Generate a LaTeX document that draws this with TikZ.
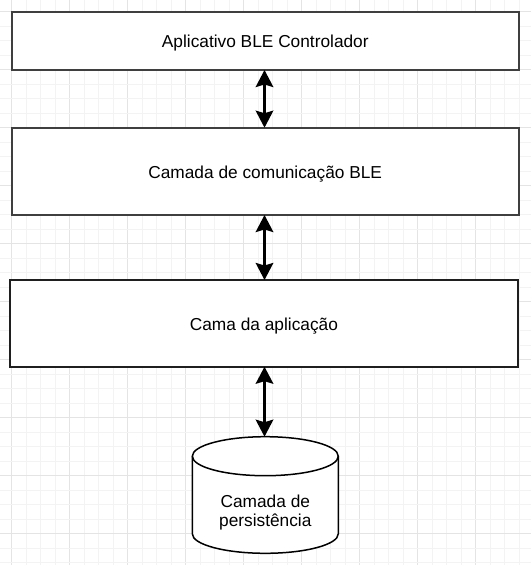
\documentclass[tikz,border=0pt]{standalone}
\usepackage{fontspec}
\setmainfont{Liberation Sans}
\usetikzlibrary{arrows.meta}
\definecolor{gridminor}{HTML}{F3F3F3}
\definecolor{gridmajor}{HTML}{E4E4E4}
\definecolor{boxline}{HTML}{3F3F3F}
\tikzset{
  layerbox/.style={draw=boxline, line width=2pt, fill=white, inner sep=0pt},
  lbl/.style={font=\fontsize{17.3}{19.5}\selectfont, align=center, text=black},
  biarrow/.style={line width=2.7pt, black, {Stealth[length=17pt,width=17.5pt,inset=2.5pt]}-{Stealth[length=17pt,width=17.5pt,inset=2.5pt]}},
}
\begin{document}
\begin{tikzpicture}[x=1pt,y=-1pt]
\useasboundingbox (0,0) rectangle (531,565);
\fill[white] (0,0) rectangle (531,565);
% grid
\foreach \k in {0,...,35}{
  \pgfmathtruncatemacro{\m}{mod(\k,4)}
  \ifnum\m=0
    \draw[gridmajor, line width=0.85pt] ({11.7+14.5*\k},0) -- ({11.7+14.5*\k},565);
  \else
    \draw[gridminor, line width=0.85pt] ({11.7+14.5*\k},0) -- ({11.7+14.5*\k},565);
  \fi
}
\foreach \k in {0,...,38}{
  \pgfmathtruncatemacro{\m}{mod(\k,4)}
  \ifnum\m=0
    \draw[gridmajor, line width=0.85pt] (0,{11.8+14.5*\k}) -- (531,{11.8+14.5*\k});
  \else
    \draw[gridminor, line width=0.85pt] (0,{11.8+14.5*\k}) -- (531,{11.8+14.5*\k});
  \fi
}
% boxes
\draw[layerbox] (11.7,12.3) rectangle (519,70);
\node[lbl] (b1) at (265.3,43.5) {Aplicativo BLE Controlador};
\coordinate (b1s) at (264.5,70);
\draw[layerbox] (11.7,127.7) rectangle (518.7,215);
\node[lbl] (b2) at (265.2,173.8) {Camada de comunicação BLE};
\coordinate (b2n) at (264.5,127.7);
\coordinate (b2s) at (264.5,215);
\draw[layerbox, draw=black!88] (10,280) rectangle (517.7,366.7);
\node[lbl] (b3) at (263.9,325.8) {Cama da aplicação};
\coordinate (b3n) at (264.5,280);
\coordinate (b3s) at (264.5,366.7);
% cylinder
\draw[black, line width=1.5pt, fill=white]
  (192.3,456.2) -- (192.3,533.8)
  arc[start angle=180, end angle=360, x radius=73pt, y radius=19.5pt]
  -- (338.3,456.2)
  arc[start angle=0, end angle=180, x radius=73pt, y radius=19.5pt];
\draw[black, line width=1.5pt]
  (192.3,456.2) arc[start angle=180, end angle=360, x radius=73pt, y radius=19.5pt];
\node[lbl] (db) at (265.3,512.5) {Camada de\\persistência};
\coordinate (dbn) at (264.5,436.7);
% arrows
\draw[biarrow] (b1s) -- (b2n);
\draw[biarrow] (b2s) -- (b3n);
\draw[biarrow] (b3s) -- (dbn);
\end{tikzpicture}
\end{document}
